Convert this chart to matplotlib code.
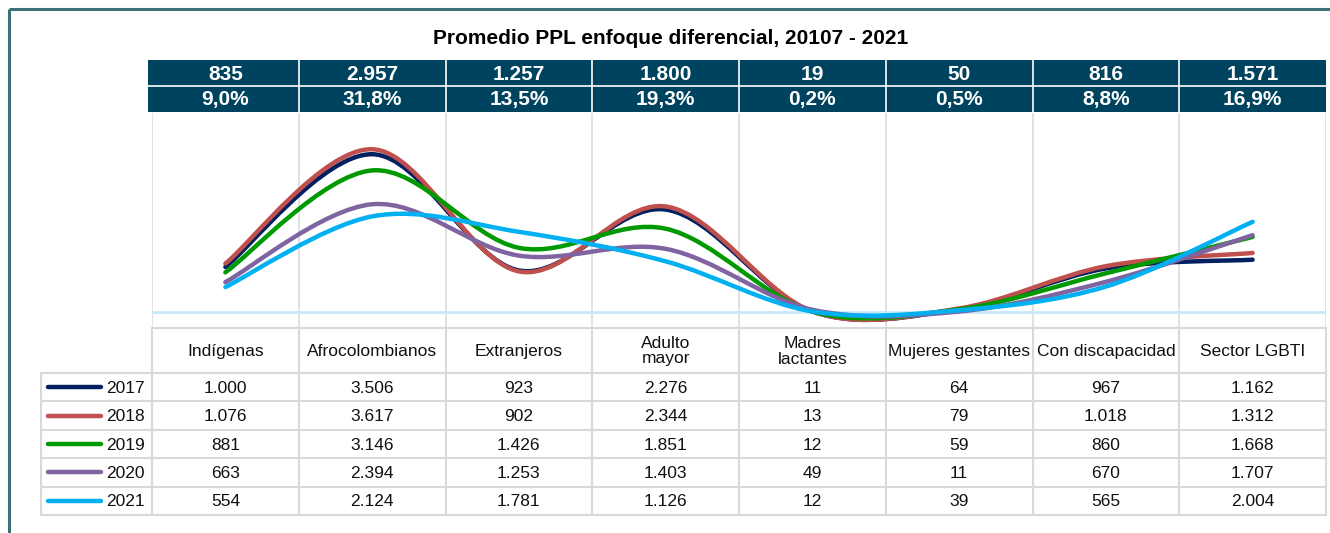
import numpy as np
import matplotlib
matplotlib.use("Agg")
import matplotlib.pyplot as plt
from matplotlib.path import Path
from matplotlib.patches import PathPatch, Rectangle

plt.rcParams['font.family'] = ['Liberation Sans', 'DejaVu Sans']

# --- data ---
categories = ['Indígenas', 'Afrocolombianos', 'Extranjeros', 'Adulto\nmayor',
              'Madres\nlactantes', 'Mujeres gestantes', 'Con discapacidad', 'Sector LGBTI']
years = ['2017', '2018', '2019', '2020', '2021']
v2017 = [1000, 3506, 923, 2276, 11, 64, 967, 1162]
v2018 = [1076, 3617, 902, 2344, 13, 79, 1018, 1312]
v2019 = [881, 3146, 1426, 1851, 12, 59, 860, 1668]
v2020 = [663, 2394, 1253, 1403, 49, 11, 670, 1707]
v2021 = [554, 2124, 1781, 1126, 12, 39, 565, 2004]
series = [v2017, v2018, v2019, v2020, v2021]
avg_labels = ['835', '2.957', '1.257', '1.800', '19', '50', '816', '1.571']
pct_labels = ['9,0%', '31,8%', '13,5%', '19,3%', '0,2%', '0,5%', '8,8%', '16,9%']
title = 'Promedio PPL enfoque diferencial, 20107 - 2021'

colors = ['#002060', '#c0504d', '#009a00', '#8064a2', '#00b0f0']
HEAD = '#00435e'
GRID = '#d9d9d9'
FRAME = '#3d6f79'

W, H = 1330, 533
fig = plt.figure(figsize=(W / 100, H / 100), dpi=100)

# column edges in pixels
x0, x1 = 152, 1326
ncol = len(categories)
colw = (x1 - x0) / ncol
edges = [x0 + i * colw for i in range(ncol + 1)]


def smooth_path(xs, ys):
    # Excel-like smoothed line: cubic bezier through every point
    pts = np.column_stack([xs, ys]).astype(float)
    n = len(pts)
    verts = [pts[0]]
    codes = [Path.MOVETO]
    for i in range(n - 1):
        p0 = pts[max(i - 1, 0)]
        p1 = pts[i]
        p2 = pts[i + 1]
        p3 = pts[min(i + 2, n - 1)]
        c1 = p1 + (p2 - p0) / 6.0
        c2 = p2 - (p3 - p1) / 6.0
        verts += [c1, c2, p2]
        codes += [Path.CURVE4] * 3
    return Path(verts, codes)


# --- plot area ---
plot_top, plot_bot = 113, 328
ax = fig.add_axes([x0 / W, 1 - plot_bot / H, (x1 - x0) / W, (plot_bot - plot_top) / H])
ax.set_xlim(0, ncol)
ax.set_ylim(-356, 4422)
ax.axis('off')
for i in range(ncol + 1):
    ax.axvline(i, color=GRID, lw=1.1, zorder=1)
ax.axhline(0, color='#c6e9f8', lw=2, zorder=2)

xpos = np.arange(ncol) + 0.5
for vals, c in zip(series, colors):
    p = smooth_path(xpos, vals)
    ax.add_patch(PathPatch(p, facecolor='none', edgecolor=c, lw=3.2,
                           capstyle='round', joinstyle='round', zorder=3))

# --- overlay in pixel coordinates ---
ov = fig.add_axes([0, 0, 1, 1])
ov.set_xlim(0, W)
ov.set_ylim(H, 0)
ov.axis('off')
ov.patch.set_alpha(0)

# outer frame
ov.plot([9, W], [9, 9], color=FRAME, lw=2.2, solid_capstyle='butt')
ov.plot([9, 9], [9, H], color=FRAME, lw=2.2, solid_capstyle='butt')

ov.text(671, 38, title, ha='center', va='center', fontsize=15, fontweight='bold', color='black')

# header band
hb_l, hb_t, hb_m, hb_b = 148, 60, 86, 112
ov.add_patch(Rectangle((hb_l, hb_t), x1 - hb_l, hb_b - hb_t, facecolor=HEAD, edgecolor='none'))
ov.plot([hb_l, x1], [hb_m, hb_m], color='white', lw=1.2)
for e in edges[1:-1]:
    ov.plot([e, e], [hb_t, hb_b], color='white', lw=1.2)
for i in range(ncol):
    cx = (edges[i] + edges[i + 1]) / 2
    ov.text(cx, (hb_t + hb_m) / 2 + 1, avg_labels[i], ha='center', va='center',
            fontsize=15, fontweight='bold', color='white')
    ov.text(cx, (hb_m + hb_b) / 2 + 1, pct_labels[i], ha='center', va='center',
            fontsize=15, fontweight='bold', color='white')

# data table
t_top, t_head = 328, 373
row_h = 28.4
rows_y = [t_head + k * row_h for k in range(len(years) + 1)]
leg_l = 41
ov.plot([x0, x1], [t_top, t_top], color=GRID, lw=1.5)
for y in rows_y:
    ov.plot([leg_l, x1], [y, y], color=GRID, lw=1.5)
for e in edges:
    ov.plot([e, e], [t_top, rows_y[-1]], color=GRID, lw=1.5)
ov.plot([leg_l, leg_l], [t_head, rows_y[-1]], color=GRID, lw=1.5)

for i, cat in enumerate(categories):
    cx = (edges[i] + edges[i + 1]) / 2
    ov.text(cx, (t_top + t_head) / 2 + 1, cat, ha='center', va='center',
            fontsize=12.5, linespacing=1.0, color='#111111')

for k, (yr, vals, c) in enumerate(zip(years, series, colors)):
    cy = (rows_y[k] + rows_y[k + 1]) / 2
    ov.plot([48, 101], [cy, cy], color=c, lw=3.2, solid_capstyle='round')
    ov.text(145, cy + 1, yr, ha='right', va='center', fontsize=12.5, color='#111111')
    for i, v in enumerate(vals):
        cx = (edges[i] + edges[i + 1]) / 2
        ov.text(cx, cy + 1, f"{v:,}".replace(',', '.'), ha='center', va='center',
                fontsize=12.5, color='#111111')

fig.savefig('out.png', dpi=100)
